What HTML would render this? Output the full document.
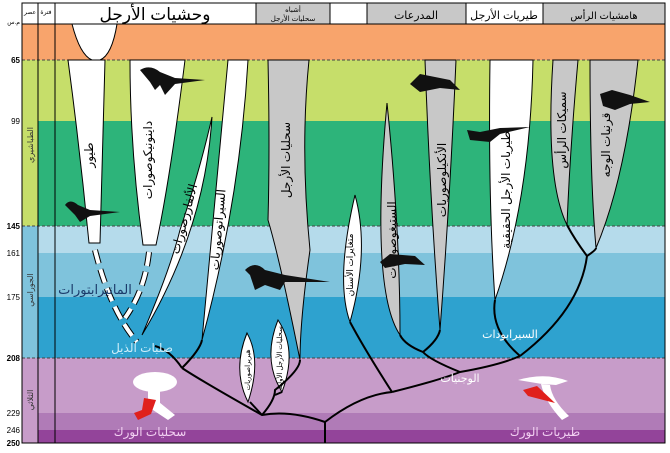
<!DOCTYPE html>
<html><head><meta charset="utf-8"><style>
body{margin:0;width:670px;height:448px;overflow:hidden;background:#fff;font-family:"Liberation Sans","DejaVu Sans",sans-serif}
</style></head><body>
<svg width="670" height="448" viewBox="0 0 670 448" xmlns="http://www.w3.org/2000/svg" font-family="Liberation Sans, DejaVu Sans, sans-serif">
<rect x="22" y="24" width="643" height="36" fill="#f8a46c"/>
<rect x="22" y="60" width="643" height="61" fill="#c6de6a"/>
<rect x="22" y="121" width="643" height="105" fill="#2db47a"/>
<rect x="22" y="226" width="643" height="27" fill="#b5dbeb"/>
<rect x="22" y="253" width="643" height="44" fill="#7fc3dc"/>
<rect x="22" y="297" width="643" height="61" fill="#2ea2cf"/>
<rect x="22" y="358" width="643" height="55" fill="#c79cc9"/>
<rect x="22" y="413" width="643" height="17" fill="#b07bb7"/>
<rect x="22" y="430" width="643" height="13" fill="#93449a"/>
<rect x="22" y="60" width="16" height="166" fill="#c6de6a"/>
<rect x="22" y="226" width="16" height="132" fill="#7fc3dc"/>
<rect x="22" y="358" width="16" height="85" fill="#c79cc9"/>
<g stroke="#444" stroke-dasharray="3,2" stroke-width="1">
<line x1="22" y1="60" x2="665" y2="60"/><line x1="22" y1="226" x2="665" y2="226"/><line x1="22" y1="358" x2="665" y2="358"/>
</g>
<rect x="22" y="3" width="643" height="21" fill="#fff" stroke="#000"/>
<rect x="256" y="3" width="74" height="21" fill="#c8c8c8" stroke="#000"/>
<rect x="367" y="3" width="99" height="21" fill="#c8c8c8" stroke="#000"/>
<rect x="543" y="3" width="122" height="21" fill="#c8c8c8" stroke="#000"/>
<rect x="466" y="3" width="77" height="21" fill="#fff" stroke="#000"/>
<line x1="38" y1="3" x2="38" y2="443" stroke="#000"/>
<line x1="55" y1="3" x2="55" y2="443" stroke="#000"/>
<rect x="22" y="3" width="643" height="440" fill="none" stroke="#000"/>
<text x="155" y="20" font-size="17" text-anchor="middle">وحشيات الأرجل</text>
<text x="293" y="12" font-size="7" text-anchor="middle">أشباه</text>
<text x="293" y="21" font-size="7" text-anchor="middle">سحليات الأرجل</text>
<text x="416" y="19" font-size="11" text-anchor="middle">المدرعات</text>
<text x="504" y="19" font-size="11" text-anchor="middle">طيريات الأرجل</text>
<text x="604" y="19" font-size="10" text-anchor="middle">هامشيات الرأس</text>
<text x="30" y="14" font-size="6" text-anchor="middle">عصر</text>
<text x="46" y="14" font-size="6" text-anchor="middle">فترة</text>
<g font-size="8" font-weight="bold" text-anchor="end">
<text x="20" y="63">65</text><text x="20" y="124" font-weight="normal">99</text><text x="20" y="229">145</text>
<text x="20" y="256" font-weight="normal">161</text><text x="20" y="300" font-weight="normal">175</text><text x="20" y="361">208</text>
<text x="20" y="416" font-weight="normal">229</text><text x="20" y="433" font-weight="normal">246</text><text x="20" y="446">250</text>
</g>
<text x="20" y="24" font-size="6" text-anchor="end">م.س</text>
<g font-size="8" fill="#333">
<text transform="translate(33,145) rotate(-90)" text-anchor="middle">الطباشيري</text>
<text transform="translate(33,290) rotate(-90)" text-anchor="middle">الجوراسي</text>
<text transform="translate(33,400) rotate(-90)" text-anchor="middle">الثلاثي</text>
</g>
<g stroke="#000" stroke-width="1">
<path d="M72,24 Q80,55 92,60 L100,60 Q112,55 117,24Z" fill="#fff"/>
<path d="M68,60 L105,60 Q103,120 100,243 L89,243 Q80,150 68,60Z" fill="#fff"/>
<path d="M130,60 L185,60 Q170,180 156,245 L143,245 Q130,150 130,60Z" fill="#fff"/>
<path d="M212,117 Q205,230 142,335 Q170,270 180,230 Q200,170 212,117Z" fill="#fff"/>
<path d="M228,60 L248,60 Q240,200 202,340 Q215,200 228,60Z" fill="#fff"/>
<path d="M268,60 L309,60 Q300,150 310,250 Q300,320 300,360 Q280,260 268,220 Q270,150 268,60Z" fill="#c8c8c8"/>
<path d="M247,333 Q262,360 248,402 Q232,370 247,333Z" fill="#fff"/>
<path d="M278,320 Q298,350 282,392 Q262,360 278,320Z" fill="#fff"/>
<path d="M355,195 Q370,250 350,322 Q335,280 355,195Z" fill="#fff"/>
<path d="M387,103 Q400,230 400,335 Q370,290 387,103Z" fill="#c8c8c8"/>
<path d="M425,60 L456,60 Q450,200 440,330 Q430,200 425,60Z" fill="#c8c8c8"/>
<path d="M490,60 L533,60 Q530,200 495,300 Q488,200 490,60Z" fill="#fff"/>
<path d="M553,60 L578,60 Q570,150 567,225 Q545,180 553,60Z" fill="#c8c8c8"/>
<path d="M590,60 L638,60 Q625,180 596,248 Q590,180 590,60Z" fill="#c8c8c8"/>
</g>
<g fill="none" stroke-dasharray="14,6">
<path d="M95,250 Q110,310 137,342" stroke="#000" stroke-width="6"/>
<path d="M95,250 Q110,310 137,342" stroke="#fff" stroke-width="4"/>
<path d="M149,252 Q145,290 125,318" stroke="#000" stroke-width="6"/>
<path d="M149,252 Q145,290 125,318" stroke="#fff" stroke-width="4"/>
</g>
<g stroke="#000" stroke-width="2" fill="none">
<path d="M325,443 L325,422"/>
<path d="M325,422 Q290,410 262,415 Q200,380 182,368"/>
<path d="M182,368 Q170,350 155,346"/><path d="M182,368 Q200,350 202,340"/>
<path d="M262,415 Q275,400 275,390 Q300,370 300,360"/><path d="M275,395 L282,392"/><path d="M262,415 L250,402"/>
<path d="M325,422 Q360,395 392,392"/>
<path d="M392,392 Q365,350 350,322"/>
<path d="M392,392 Q440,380 460,372 Q500,365 520,356"/>
<path d="M460,372 Q430,360 423,352"/><path d="M423,352 Q405,345 400,335"/><path d="M423,352 Q438,340 440,330"/>
<path d="M520,356 Q490,330 495,300"/><path d="M520,356 Q580,310 587,256"/><path d="M587,256 Q575,240 567,225"/><path d="M587,256 Q596,250 596,248"/>
</g>
<g font-size="12" fill="#000">
<text transform="translate(93,155) rotate(-90)" text-anchor="middle">طيور</text>
<text transform="translate(152,160) rotate(-90)" text-anchor="middle">داينونيكوصورات</text>
<text transform="translate(188,220) rotate(-75)" text-anchor="middle">الألفارزصورات</text>
<text transform="translate(222,230) rotate(-85)" text-anchor="middle">السيراتوصوريات</text>
<text transform="translate(290,160) rotate(-90)" text-anchor="middle">سحليات الأرجل</text>
<text transform="translate(446,180) rotate(-90)" text-anchor="middle">الأنكيلوصوريات</text>
<text transform="translate(396,240) rotate(-90)" text-anchor="middle">الستيغوصوريات</text>
<text transform="translate(510,190) rotate(-90)" text-anchor="middle">طيريات الأرجل الحقيقية</text>
<text transform="translate(566,130) rotate(-90)" text-anchor="middle">سميكات الرأس</text>
<text transform="translate(610,145) rotate(-90)" text-anchor="middle">قرنيات الوجه</text>
<text transform="translate(353,265) rotate(-90)" text-anchor="middle" font-size="9">متغايرات الأسنان</text>
<text transform="translate(250,370) rotate(-90)" text-anchor="middle" font-size="7">هيريراصوريات</text>
<text transform="translate(282,358) rotate(-90)" text-anchor="middle" font-size="7">سحليات الأرجل الأولية</text>
</g>
<text x="95" y="294" font-size="13" fill="#1a3a6a" text-anchor="middle">المانيرابتورات</text>
<text x="142" y="352" font-size="12" fill="#cdeefa" text-anchor="middle">صلبات الذيل</text>
<text x="510" y="338" font-size="11" fill="#fff" text-anchor="middle">السيرابودات</text>
<text x="460" y="382" font-size="11" fill="#fff" text-anchor="middle">الوجنيات</text>
<text x="150" y="436" font-size="12" fill="#f2d0f2" text-anchor="middle">سحليات الورك</text>
<text x="545" y="436" font-size="12" fill="#f2d0f2" text-anchor="middle">طيريات الورك</text>
<ellipse cx="155" cy="382" rx="22" ry="10" fill="#fff"/>
<rect x="148" y="388" width="12" height="20" fill="#fff"/>
<path d="M154,398 L175,415 L168,420 L150,408Z" fill="#fff"/>
<path d="M144,398 L156,400 L151,414 L138,420 L134,413 L142,410Z" fill="#e0201c"/>
<path d="M518,380 Q545,372 568,381 L556,385 L542,384 Z" fill="#fff"/>
<path d="M541,384 L550,385 Q552,400 569,416 L562,420 Q545,402 541,384Z" fill="#fff"/>
<path d="M523,390 L537,386 L555,403 L528,396Z" fill="#e0201c"/>
<g fill="#111">
<path d="M140,70 Q150,64 160,72 L175,78 L205,80 L175,84 L165,95 L160,85 L155,90 L150,82Z"/>
<path d="M65,205 Q70,198 78,205 L90,210 L120,212 L90,216 L80,222 L75,215Z"/>
<path d="M245,270 Q255,260 265,270 L285,275 L330,282 L285,282 L280,290 L265,285 L255,290 L250,275Z"/>
<path d="M410,84 L420,74 L450,80 L460,90 L440,88 L420,92Z"/>
<path d="M380,262 L390,254 L415,256 L425,265 L405,264 L385,268Z"/>
<path d="M467,130 L480,132 L500,128 L530,127 L500,134 L490,142 L470,140Z"/>
<path d="M600,94 L612,90 L630,95 L650,102 L630,104 L615,110 L603,106Z"/>
</g>
</svg>
</body></html>
